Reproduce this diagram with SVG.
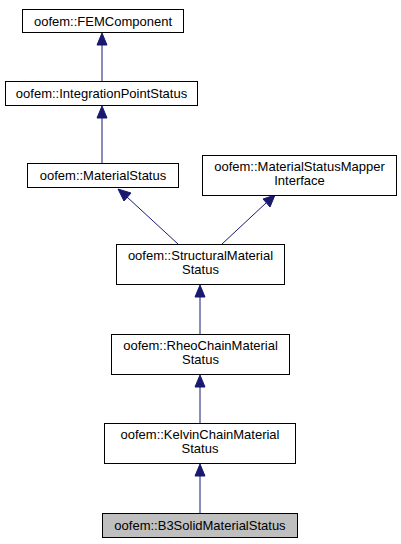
<svg xmlns="http://www.w3.org/2000/svg" width="401" height="544" viewBox="0 0 401 544">
<style>
.n rect{fill:#fff;stroke:#000;stroke-width:1}
.n text{font-family:"Liberation Sans",Arial,sans-serif;font-size:13px;text-anchor:middle;fill:#000}
.e line{stroke:#191970;stroke-width:1}
.e polygon{fill:#191970;stroke:#191970}
</style>
<rect width="401" height="544" fill="#fff"/>
<g class="e" id="edges">
<line x1="102" y1="81" x2="102" y2="44"/><polygon points="102,33 97,45 107,45"/>
<line x1="102" y1="163" x2="102" y2="117"/><polygon points="102,106 97,118 107,118"/>
<line x1="178" y1="244" x2="127" y2="197"/><polygon points="118,189 124,201 131,193"/>
<line x1="222" y1="244" x2="266" y2="203"/><polygon points="275,195 263,199 270,207"/>
<line x1="200" y1="334" x2="200" y2="296"/><polygon points="200,285 195,297 205,297"/>
<line x1="200" y1="423" x2="200" y2="386"/><polygon points="200,375 195,387 205,387"/>
<line x1="200" y1="513" x2="200" y2="475"/><polygon points="200,464 195,476 205,476"/>
</g>
<g class="n" id="FEMComponent"><rect x="22.5" y="9.5" width="161" height="23"/><text x="103" y="26">oofem::FEMComponent</text></g>
<g class="n" id="IntegrationPointStatus"><rect x="5.5" y="81.5" width="192" height="24"/><text x="101.5" y="98">oofem::IntegrationPointStatus</text></g>
<g class="n" id="MaterialStatus"><rect x="27.5" y="163.5" width="151" height="24"/><text x="103" y="180">oofem::MaterialStatus</text></g>
<g class="n" id="MaterialStatusMapperInterface"><rect x="202.5" y="155.5" width="194" height="40"/><text x="299.5" y="171">oofem::MaterialStatusMapper</text><text x="299.5" y="185">Interface</text></g>
<g class="n" id="StructuralMaterialStatus"><rect x="116.5" y="244.5" width="168" height="40"/><text x="200.5" y="260">oofem::StructuralMaterial</text><text x="200.5" y="274">Status</text></g>
<g class="n" id="RheoChainMaterialStatus"><rect x="111.5" y="334.5" width="178" height="40"/><text x="200.5" y="350">oofem::RheoChainMaterial</text><text x="200.5" y="364">Status</text></g>
<g class="n" id="KelvinChainMaterialStatus"><rect x="104.5" y="423.5" width="191" height="40"/><text x="200" y="439">oofem::KelvinChainMaterial</text><text x="200" y="453">Status</text></g>
<g class="n" id="B3SolidMaterialStatus"><rect x="102.5" y="513.5" width="195" height="24" style="fill:#bfbfbf"/><text x="200" y="530">oofem::B3SolidMaterialStatus</text></g>
</svg>
